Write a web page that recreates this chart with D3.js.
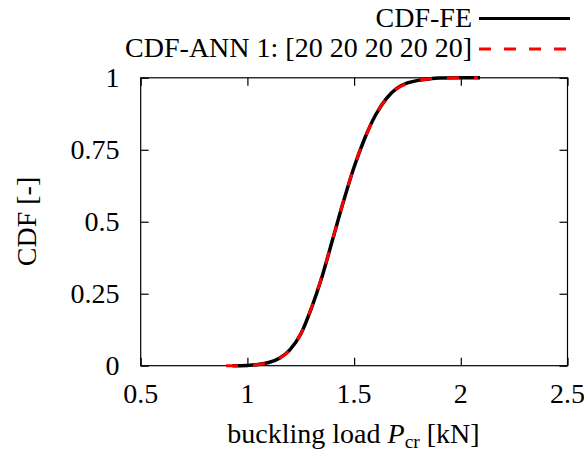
<!DOCTYPE html>
<html><head><meta charset="utf-8">
<script src="https://cdn.jsdelivr.net/npm/d3@7/dist/d3.min.js"></script>
<style>body{margin:0;background:#fff}svg{display:block}</style>
</head><body>
<script>
const xTicks = [0.5, 1, 1.5, 2, 2.5];
const yTicks = [0, 0.25, 0.5, 0.75, 1];
const xTickLabels = ["0.5", "1", "1.5", "2", "2.5"];
const yTickLabels = ["0", "0.25", "0.5", "0.75", "1"];
const feX   = [0.93, 1.00, 1.05, 1.10, 1.15, 1.20, 1.25, 1.30, 1.35, 1.40, 1.45, 1.50, 1.55, 1.60, 1.65, 1.70, 1.75, 1.80, 1.85, 1.90, 2.00, 2.09];
const feCdf = [0.000, 0.001, 0.004, 0.011, 0.026, 0.056, 0.110, 0.200, 0.310, 0.440, 0.570, 0.690, 0.790, 0.870, 0.927, 0.963, 0.982, 0.991, 0.996, 0.999, 1.000, 1.000];
const annX   = [0.90, 0.95, 1.00, 1.05, 1.10, 1.15, 1.20, 1.25, 1.30, 1.35, 1.40, 1.45, 1.50, 1.55, 1.60, 1.65, 1.70, 1.75, 1.80, 1.85, 1.90, 2.00, 2.08];
const annCdf = [0.000, 0.000, 0.001, 0.004, 0.011, 0.025, 0.055, 0.111, 0.201, 0.312, 0.441, 0.571, 0.691, 0.790, 0.870, 0.926, 0.962, 0.981, 0.991, 0.996, 0.999, 1.000, 1.000];
const legendLabels = ["CDF-FE", "CDF-ANN 1: [20 20 20 20 20]"];

const W = 584, H = 455;
const m = {l: 140.7, r: 567.5, t: 77.8, b: 365.7};
const FONT = "'Liberation Serif', 'Times New Roman', Times, 'DejaVu Serif', serif";
const svg = d3.select("body").append("svg").attr("width", W).attr("height", H)
  .attr("font-family", FONT);
const x = d3.scaleLinear().domain([0.5, 2.5]).range([m.l, m.r]);
const y = d3.scaleLinear().domain([0, 1]).range([m.b, m.t]);
const FS = 28;

svg.append("rect").attr("x", m.l).attr("y", m.t).attr("width", m.r - m.l).attr("height", m.b - m.t)
  .attr("fill", "none").attr("stroke", "#000").attr("stroke-width", 1.2);

const tl = 8;
function noLabels(g) { g.select(".domain").remove(); g.selectAll("line").attr("stroke-width", 1.2); g.selectAll("text").remove(); }
svg.append("g").attr("transform", `translate(0,${m.b})`)
  .call(d3.axisBottom(x).tickValues(xTicks).tickSize(-tl)).call(noLabels);
svg.append("g").attr("transform", `translate(0,${m.t})`)
  .call(d3.axisTop(x).tickValues(xTicks).tickSize(-tl)).call(noLabels);
svg.append("g").attr("transform", `translate(${m.l},0)`)
  .call(d3.axisLeft(y).tickValues(yTicks).tickSize(-tl)).call(noLabels);
svg.append("g").attr("transform", `translate(${m.r},0)`)
  .call(d3.axisRight(y).tickValues(yTicks).tickSize(-tl)).call(noLabels);

function T(sel) { return sel.attr("font-family", FONT).attr("font-size", FS).attr("fill", "#000"); }

svg.selectAll(".xl").data(xTicks).enter().append("text").call(T)
  .attr("x", d => x(d)).attr("y", 403).attr("text-anchor", "middle")
  .text((d, i) => xTickLabels[i]);
svg.selectAll(".yl").data(yTicks).enter().append("text").call(T)
  .attr("x", 119.5).attr("y", d => y(d) + 9).attr("text-anchor", "end")
  .text((d, i) => yTickLabels[i]);

svg.append("text").call(T).attr("transform", "translate(36,221.5) rotate(-90)")
  .attr("text-anchor", "middle").text("CDF [-]");
const xt = svg.append("text").call(T).attr("x", 353.5).attr("y", 442.5).attr("text-anchor", "middle");
xt.append("tspan").text("buckling load ");
xt.append("tspan").attr("font-style", "italic").text("P");
xt.append("tspan").attr("font-size", 19.5).attr("dy", 5).text("cr");
xt.append("tspan").attr("dy", -5).text(" [kN]");

const line = d3.line().x(d => x(d[0])).y(d => y(d[1])).curve(d3.curveMonotoneX);
const fe = feX.map((v, i) => [v, feCdf[i]]);
const ann = annX.map((v, i) => [v, annCdf[i]]);
svg.append("path").datum(fe).attr("d", line).attr("fill", "none").attr("stroke", "#000").attr("stroke-width", 3.5);
svg.append("path").datum(ann).attr("d", line).attr("fill", "none").attr("stroke", "#ff0000").attr("stroke-width", 3)
  .attr("stroke-dasharray", "12,15");

const leg = [{c: "#000", d: null, yy: 18.5}, {c: "#ff0000", d: "12,13", yy: 49}];
leg.forEach((L, i) => {
  svg.append("text").call(T).attr("x", 472).attr("y", L.yy + 8).attr("text-anchor", "end").text(legendLabels[i]);
  const ln = svg.append("line").attr("x1", 479).attr("x2", 570).attr("y1", L.yy).attr("y2", L.yy)
    .attr("stroke", L.c).attr("stroke-width", 3);
  if (L.d) ln.attr("stroke-dasharray", L.d);
});
</script>
</body></html>
